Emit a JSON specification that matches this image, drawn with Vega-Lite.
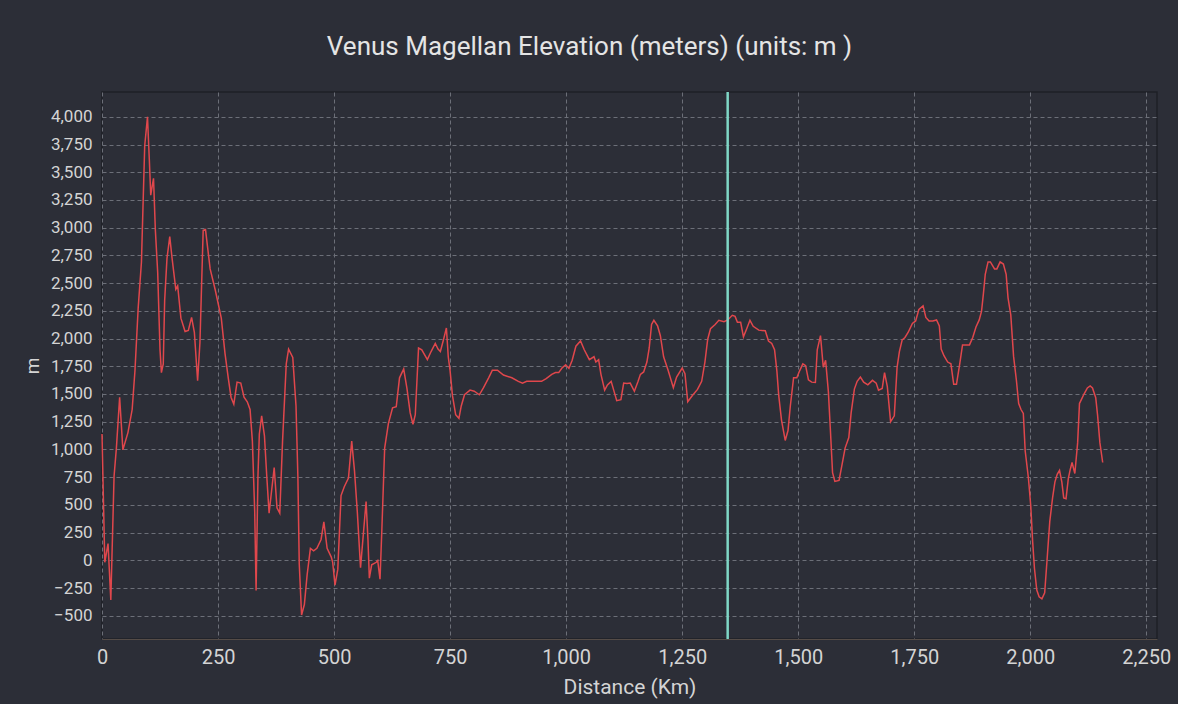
{
  "$schema": "https://vega.github.io/schema/vega-lite/v6.json",
  "width": 1055,
  "height": 547,
  "autosize": {"type": "none"},
  "padding": {"left": 102, "top": 92, "right": 21, "bottom": 65},
  "background": "#2c2e37",
  "title": {
    "text": "Venus Magellan Elevation (meters) (units: m )",
    "font": "Roboto",
    "fontSize": 26,
    "fontWeight": "normal",
    "color": "#e4e4e4",
    "anchor": "middle",
    "dx": -40,
    "offset": 10,
    "baseline": "alphabetic"
  },
  "config": {
    "view": {"stroke": "#1e2027", "strokeWidth": 1.5},
    "axis": {
      "labelFont": "Roboto",
      "titleFont": "Roboto",
      "labelColor": "#d4d4d4",
      "titleColor": "#d4d4d4",
      "titleFontWeight": "normal",
      "gridColor": "#6c6f78",
      "gridDash": [4, 3],
      "gridWidth": 1,
      "ticks": false,
      "tickSize": 0,
      "labelFlush": false,
      "labelOverlap": false
    }
  },
  "datasets": {
    "profile": [
      {"distance": 0, "elevation": 1139},
      {"distance": 6, "elevation": -18},
      {"distance": 13, "elevation": 150},
      {"distance": 19, "elevation": -357},
      {"distance": 26, "elevation": 758},
      {"distance": 31, "elevation": 1012},
      {"distance": 38, "elevation": 1471},
      {"distance": 45, "elevation": 996},
      {"distance": 56, "elevation": 1154},
      {"distance": 65, "elevation": 1360},
      {"distance": 71, "elevation": 1709},
      {"distance": 78, "elevation": 2279},
      {"distance": 85, "elevation": 2691},
      {"distance": 92, "elevation": 3737},
      {"distance": 98, "elevation": 4000},
      {"distance": 102, "elevation": 3610},
      {"distance": 105, "elevation": 3293},
      {"distance": 111, "elevation": 3445},
      {"distance": 115, "elevation": 2976},
      {"distance": 120, "elevation": 2596},
      {"distance": 125, "elevation": 1899},
      {"distance": 128, "elevation": 1693},
      {"distance": 132, "elevation": 1772},
      {"distance": 135, "elevation": 2343},
      {"distance": 140, "elevation": 2723},
      {"distance": 146, "elevation": 2919},
      {"distance": 151, "elevation": 2723},
      {"distance": 159, "elevation": 2444},
      {"distance": 163, "elevation": 2476},
      {"distance": 170, "elevation": 2184},
      {"distance": 179, "elevation": 2064},
      {"distance": 186, "elevation": 2073},
      {"distance": 193, "elevation": 2191},
      {"distance": 199, "elevation": 2057},
      {"distance": 206, "elevation": 1620},
      {"distance": 211, "elevation": 1962},
      {"distance": 216, "elevation": 2691},
      {"distance": 218, "elevation": 2976},
      {"distance": 223, "elevation": 2983},
      {"distance": 233, "elevation": 2628},
      {"distance": 244, "elevation": 2438},
      {"distance": 257, "elevation": 2184},
      {"distance": 265, "elevation": 1867},
      {"distance": 272, "elevation": 1646},
      {"distance": 278, "elevation": 1471},
      {"distance": 284, "elevation": 1408},
      {"distance": 291, "elevation": 1607},
      {"distance": 299, "elevation": 1598},
      {"distance": 306, "elevation": 1471},
      {"distance": 313, "elevation": 1430},
      {"distance": 319, "elevation": 1360},
      {"distance": 324, "elevation": 1075},
      {"distance": 329, "elevation": 441},
      {"distance": 332, "elevation": -272},
      {"distance": 336, "elevation": 758},
      {"distance": 339, "elevation": 1139},
      {"distance": 344, "elevation": 1303},
      {"distance": 350, "elevation": 1123},
      {"distance": 355, "elevation": 758},
      {"distance": 360, "elevation": 425},
      {"distance": 371, "elevation": 837},
      {"distance": 377, "elevation": 473},
      {"distance": 383, "elevation": 425},
      {"distance": 389, "elevation": 1075},
      {"distance": 397, "elevation": 1772},
      {"distance": 402, "elevation": 1905},
      {"distance": 411, "elevation": 1829},
      {"distance": 418, "elevation": 1392},
      {"distance": 422, "elevation": 758},
      {"distance": 425, "elevation": -34},
      {"distance": 430, "elevation": -494},
      {"distance": 436, "elevation": -399},
      {"distance": 442, "elevation": -129},
      {"distance": 449, "elevation": 108},
      {"distance": 456, "elevation": 86},
      {"distance": 463, "elevation": 108},
      {"distance": 472, "elevation": 188},
      {"distance": 478, "elevation": 346},
      {"distance": 485, "elevation": 108},
      {"distance": 494, "elevation": 29},
      {"distance": 497, "elevation": -18},
      {"distance": 502, "elevation": -224},
      {"distance": 508, "elevation": -82},
      {"distance": 515, "elevation": 584},
      {"distance": 522, "elevation": 663},
      {"distance": 531, "elevation": 742},
      {"distance": 538, "elevation": 1075},
      {"distance": 544, "elevation": 806},
      {"distance": 550, "elevation": 441},
      {"distance": 557, "elevation": -66},
      {"distance": 564, "elevation": 283},
      {"distance": 569, "elevation": 530},
      {"distance": 573, "elevation": 188},
      {"distance": 576, "elevation": -161},
      {"distance": 581, "elevation": -41},
      {"distance": 591, "elevation": -18},
      {"distance": 594, "elevation": -3},
      {"distance": 599, "elevation": -171},
      {"distance": 603, "elevation": 283},
      {"distance": 609, "elevation": 1012},
      {"distance": 617, "elevation": 1233},
      {"distance": 626, "elevation": 1376},
      {"distance": 634, "elevation": 1386},
      {"distance": 641, "elevation": 1646},
      {"distance": 650, "elevation": 1725},
      {"distance": 657, "elevation": 1551},
      {"distance": 664, "elevation": 1329},
      {"distance": 670, "elevation": 1227},
      {"distance": 675, "elevation": 1313},
      {"distance": 682, "elevation": 1915},
      {"distance": 689, "elevation": 1899},
      {"distance": 701, "elevation": 1810},
      {"distance": 709, "elevation": 1883},
      {"distance": 718, "elevation": 1956},
      {"distance": 724, "elevation": 1905},
      {"distance": 729, "elevation": 1883},
      {"distance": 736, "elevation": 1994},
      {"distance": 742, "elevation": 2095},
      {"distance": 746, "elevation": 1836},
      {"distance": 750, "elevation": 1709},
      {"distance": 755, "elevation": 1487},
      {"distance": 762, "elevation": 1313},
      {"distance": 769, "elevation": 1281},
      {"distance": 774, "elevation": 1392},
      {"distance": 781, "elevation": 1493},
      {"distance": 793, "elevation": 1535},
      {"distance": 802, "elevation": 1525},
      {"distance": 813, "elevation": 1493},
      {"distance": 822, "elevation": 1557},
      {"distance": 833, "elevation": 1646},
      {"distance": 841, "elevation": 1715},
      {"distance": 852, "elevation": 1715},
      {"distance": 865, "elevation": 1671},
      {"distance": 883, "elevation": 1646},
      {"distance": 897, "elevation": 1614},
      {"distance": 906, "elevation": 1598},
      {"distance": 915, "elevation": 1614},
      {"distance": 929, "elevation": 1614},
      {"distance": 947, "elevation": 1614},
      {"distance": 957, "elevation": 1639},
      {"distance": 969, "elevation": 1677},
      {"distance": 977, "elevation": 1693},
      {"distance": 984, "elevation": 1693},
      {"distance": 991, "elevation": 1734},
      {"distance": 999, "elevation": 1763},
      {"distance": 1006, "elevation": 1731},
      {"distance": 1013, "elevation": 1804},
      {"distance": 1021, "elevation": 1931},
      {"distance": 1031, "elevation": 1978},
      {"distance": 1039, "elevation": 1899},
      {"distance": 1050, "elevation": 1810},
      {"distance": 1060, "elevation": 1836},
      {"distance": 1064, "elevation": 1788},
      {"distance": 1070, "elevation": 1810},
      {"distance": 1075, "elevation": 1677},
      {"distance": 1083, "elevation": 1535},
      {"distance": 1089, "elevation": 1582},
      {"distance": 1097, "elevation": 1614},
      {"distance": 1104, "elevation": 1512},
      {"distance": 1109, "elevation": 1440},
      {"distance": 1118, "elevation": 1449},
      {"distance": 1124, "elevation": 1598},
      {"distance": 1131, "elevation": 1595},
      {"distance": 1138, "elevation": 1598},
      {"distance": 1147, "elevation": 1525},
      {"distance": 1155, "elevation": 1614},
      {"distance": 1160, "elevation": 1677},
      {"distance": 1167, "elevation": 1699},
      {"distance": 1174, "elevation": 1788},
      {"distance": 1179, "elevation": 1915},
      {"distance": 1184, "elevation": 2127},
      {"distance": 1189, "elevation": 2165},
      {"distance": 1197, "elevation": 2114},
      {"distance": 1203, "elevation": 2026},
      {"distance": 1210, "elevation": 1836},
      {"distance": 1220, "elevation": 1709},
      {"distance": 1231, "elevation": 1557},
      {"distance": 1238, "elevation": 1652},
      {"distance": 1250, "elevation": 1734},
      {"distance": 1256, "elevation": 1684},
      {"distance": 1262, "elevation": 1430},
      {"distance": 1272, "elevation": 1487},
      {"distance": 1283, "elevation": 1541},
      {"distance": 1292, "elevation": 1614},
      {"distance": 1299, "elevation": 1788},
      {"distance": 1305, "elevation": 1994},
      {"distance": 1311, "elevation": 2089},
      {"distance": 1321, "elevation": 2127},
      {"distance": 1329, "elevation": 2165},
      {"distance": 1340, "elevation": 2152},
      {"distance": 1348, "elevation": 2168},
      {"distance": 1358, "elevation": 2210},
      {"distance": 1364, "elevation": 2200},
      {"distance": 1369, "elevation": 2146},
      {"distance": 1376, "elevation": 2146},
      {"distance": 1382, "elevation": 2016},
      {"distance": 1389, "elevation": 2089},
      {"distance": 1396, "elevation": 2165},
      {"distance": 1403, "elevation": 2111},
      {"distance": 1415, "elevation": 2076},
      {"distance": 1429, "elevation": 2070},
      {"distance": 1436, "elevation": 1978},
      {"distance": 1443, "elevation": 1956},
      {"distance": 1449, "elevation": 1899},
      {"distance": 1454, "elevation": 1709},
      {"distance": 1458, "elevation": 1487},
      {"distance": 1464, "elevation": 1265},
      {"distance": 1472, "elevation": 1081},
      {"distance": 1478, "elevation": 1170},
      {"distance": 1483, "elevation": 1392},
      {"distance": 1490, "elevation": 1646},
      {"distance": 1497, "elevation": 1646},
      {"distance": 1503, "elevation": 1709},
      {"distance": 1510, "elevation": 1772},
      {"distance": 1516, "elevation": 1756},
      {"distance": 1522, "elevation": 1627},
      {"distance": 1529, "elevation": 1607},
      {"distance": 1537, "elevation": 1604},
      {"distance": 1541, "elevation": 1899},
      {"distance": 1548, "elevation": 2026},
      {"distance": 1554, "elevation": 1741},
      {"distance": 1559, "elevation": 1804},
      {"distance": 1565, "elevation": 1519},
      {"distance": 1569, "elevation": 1202},
      {"distance": 1574, "elevation": 790},
      {"distance": 1579, "elevation": 711},
      {"distance": 1588, "elevation": 720},
      {"distance": 1594, "elevation": 853},
      {"distance": 1601, "elevation": 1012},
      {"distance": 1609, "elevation": 1107},
      {"distance": 1614, "elevation": 1329},
      {"distance": 1621, "elevation": 1544},
      {"distance": 1627, "elevation": 1614},
      {"distance": 1634, "elevation": 1652},
      {"distance": 1641, "elevation": 1607},
      {"distance": 1650, "elevation": 1582},
      {"distance": 1660, "elevation": 1623},
      {"distance": 1668, "elevation": 1598},
      {"distance": 1673, "elevation": 1535},
      {"distance": 1681, "elevation": 1550},
      {"distance": 1686, "elevation": 1693},
      {"distance": 1692, "elevation": 1566},
      {"distance": 1699, "elevation": 1249},
      {"distance": 1707, "elevation": 1303},
      {"distance": 1713, "elevation": 1741},
      {"distance": 1718, "elevation": 1883},
      {"distance": 1724, "elevation": 1988},
      {"distance": 1730, "elevation": 2010},
      {"distance": 1737, "elevation": 2057},
      {"distance": 1746, "elevation": 2137},
      {"distance": 1753, "elevation": 2159},
      {"distance": 1760, "elevation": 2263},
      {"distance": 1769, "elevation": 2295},
      {"distance": 1775, "elevation": 2191},
      {"distance": 1782, "elevation": 2159},
      {"distance": 1790, "elevation": 2159},
      {"distance": 1798, "elevation": 2168},
      {"distance": 1804, "elevation": 2114},
      {"distance": 1808, "elevation": 1905},
      {"distance": 1814, "elevation": 1845},
      {"distance": 1822, "elevation": 1788},
      {"distance": 1829, "elevation": 1772},
      {"distance": 1835, "elevation": 1588},
      {"distance": 1841, "elevation": 1588},
      {"distance": 1848, "elevation": 1772},
      {"distance": 1854, "elevation": 1943},
      {"distance": 1860, "elevation": 1943},
      {"distance": 1869, "elevation": 1943},
      {"distance": 1876, "elevation": 2010},
      {"distance": 1883, "elevation": 2105},
      {"distance": 1890, "elevation": 2168},
      {"distance": 1895, "elevation": 2248},
      {"distance": 1899, "elevation": 2406},
      {"distance": 1903, "elevation": 2580},
      {"distance": 1909, "elevation": 2691},
      {"distance": 1914, "elevation": 2691},
      {"distance": 1923, "elevation": 2628},
      {"distance": 1928, "elevation": 2628},
      {"distance": 1935, "elevation": 2691},
      {"distance": 1942, "elevation": 2672},
      {"distance": 1948, "elevation": 2580},
      {"distance": 1952, "elevation": 2370},
      {"distance": 1958, "elevation": 2211},
      {"distance": 1964, "elevation": 1839},
      {"distance": 1970, "elevation": 1626},
      {"distance": 1975, "elevation": 1414},
      {"distance": 1980, "elevation": 1360},
      {"distance": 1985, "elevation": 1325},
      {"distance": 1989, "elevation": 988},
      {"distance": 1996, "elevation": 740},
      {"distance": 2001, "elevation": 492},
      {"distance": 2005, "elevation": 174},
      {"distance": 2009, "elevation": -74},
      {"distance": 2014, "elevation": -269},
      {"distance": 2019, "elevation": -329},
      {"distance": 2025, "elevation": -347},
      {"distance": 2031, "elevation": -294},
      {"distance": 2036, "elevation": -4},
      {"distance": 2042, "elevation": 351},
      {"distance": 2048, "elevation": 563},
      {"distance": 2053, "elevation": 705},
      {"distance": 2058, "elevation": 776},
      {"distance": 2063, "elevation": 811},
      {"distance": 2068, "elevation": 705},
      {"distance": 2072, "elevation": 563},
      {"distance": 2077, "elevation": 556},
      {"distance": 2082, "elevation": 740},
      {"distance": 2086, "elevation": 818},
      {"distance": 2090, "elevation": 882},
      {"distance": 2096, "elevation": 783},
      {"distance": 2102, "elevation": 1059},
      {"distance": 2106, "elevation": 1414},
      {"distance": 2110, "elevation": 1449},
      {"distance": 2116, "elevation": 1502},
      {"distance": 2123, "elevation": 1555},
      {"distance": 2129, "elevation": 1573},
      {"distance": 2134, "elevation": 1555},
      {"distance": 2141, "elevation": 1467},
      {"distance": 2145, "elevation": 1307},
      {"distance": 2150, "elevation": 1059},
      {"distance": 2156, "elevation": 882}
    ],
    "cursor": [{"distance": 1348}]
  },
  "layer": [
    {
      "data": {"name": "profile"},
      "mark": {"type": "line", "color": "#e0474c", "strokeWidth": 1.5, "interpolate": "linear"},
      "encoding": {
        "x": {
          "field": "distance",
          "type": "quantitative",
          "title": "Distance (Km)",
          "scale": {"domain": [0, 2273], "nice": false, "zero": false},
          "axis": {
            "values": [0, 250, 500, 750, 1000, 1250, 1500, 1750, 2000, 2250],
            "format": ",.0f",
            "labelFontSize": 20,
            "labelPadding": 8,
            "titleFontSize": 21,
            "titlePadding": 9,
            "domain": true,
            "domainColor": "#554c47",
            "domainWidth": 1,
            "grid": true
          }
        },
        "y": {
          "field": "elevation",
          "type": "quantitative",
          "title": "m",
          "scale": {"domain": [-710, 4224], "nice": false, "zero": false},
          "axis": {
            "values": [-500, -250, 0, 250, 500, 750, 1000, 1250, 1500, 1750, 2000, 2250, 2500, 2750, 3000, 3250, 3500, 3750, 4000],
            "format": ",.0f",
            "labelFontSize": 17,
            "labelPadding": 10,
            "titleFontSize": 19,
            "titlePadding": 8,
            "domain": false,
            "grid": true
          }
        }
      }
    },
    {
      "data": {"name": "cursor"},
      "mark": {"type": "rule", "color": "#7fd6c6", "strokeWidth": 2.5},
      "encoding": {
        "x": {"field": "distance", "type": "quantitative"}
      }
    }
  ]
}
